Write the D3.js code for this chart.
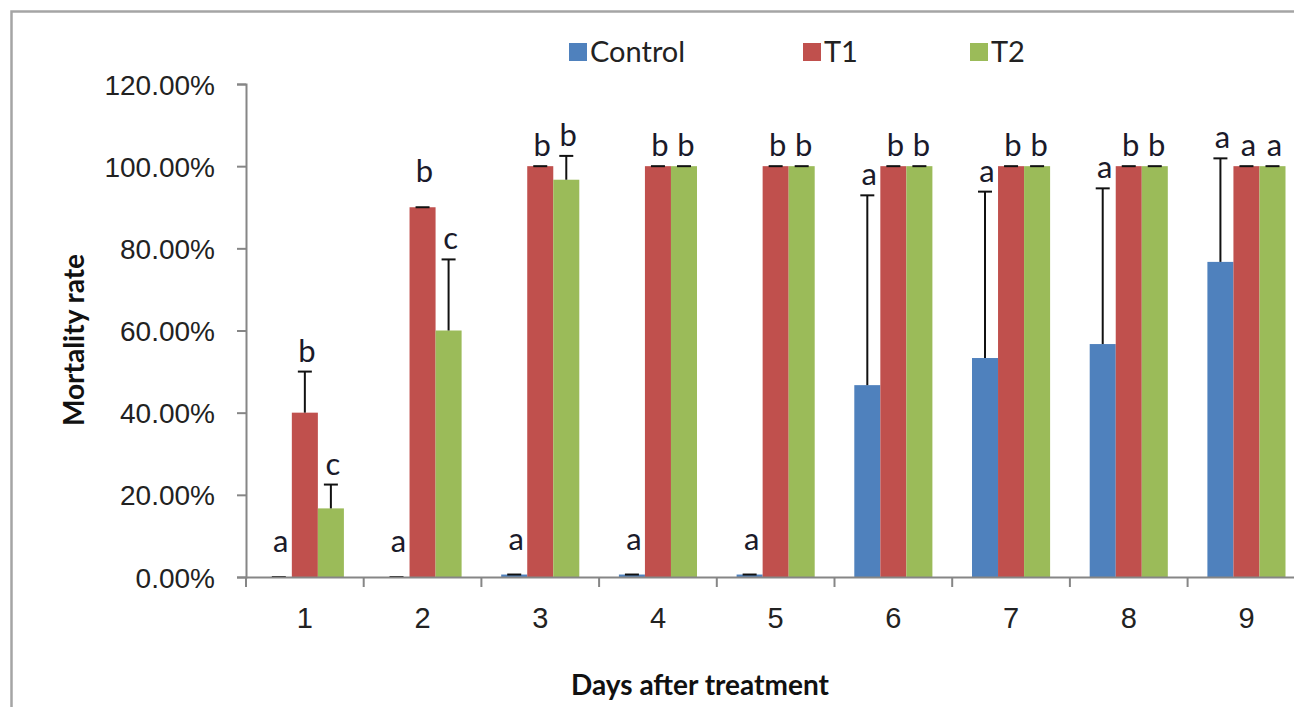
<!DOCTYPE html>
<html>
<head>
<meta charset="utf-8">
<script src="https://cdn.jsdelivr.net/npm/d3@7"></script>
<style>
  body { margin: 0; background: #fff; }
  svg { display: block; font-family: Lato, "Open Sans", sans-serif; }
</style>
</head>
<body>
<svg></svg>
<script>
// values (fractions of 1)
let days = ["1", "2", "3", "4", "5", "6", "7", "8", "9"]
let seriesNames = ["Control", "T1", "T2"]
let colors = ["#4F81BD", "#C0504D", "#9BBB59"]

let controlValues = [0, 0, 0.006, 0.006, 0.006, 0.467, 0.533, 0.567, 0.767]
let t1Values = [0.40, 0.90, 1, 1, 1, 1, 1, 1, 1]
let t2Values = [0.167, 0.60, 0.967, 1, 1, 1, 1, 1, 1]

let controlErr = [0, 0, 0, 0, 0, 0.462, 0.405, 0.379, 0.252]
let t1Err = [0.10, 0, 0, 0, 0, 0, 0, 0, 0]
let t2Err = [0.058, 0.173, 0.058, 0, 0, 0, 0, 0, 0]

let controlLetters = ["a", "a", "a", "a", "a", "a", "a", "a", "a"]
let t1Letters = ["b", "b", "b", "b", "b", "b", "b", "b", "a"]
let t2Letters = ["c", "c", "b", "b", "b", "b", "b", "b", "a"]

let yTicks = [0, 0.2, 0.4, 0.6, 0.8, 1.0, 1.2]

let width = 1294
let height = 707

let svg = d3.select("svg")
  .attr("width", width)
  .attr("height", height)

// outer chart border (chart runs off the right edge)
svg.append("rect")
  .attr("x", 11.5)
  .attr("y", 11.5)
  .attr("width", 1400)
  .attr("height", 800)
  .attr("fill", "none")
  .attr("stroke", "#a5a5a5")
  .attr("stroke-width", 2.5)

let rows = days.map((d, i) => ({
  day: d,
  bars: [
    { name: "Control", value: controlValues[i], err: controlErr[i], letter: controlLetters[i] },
    { name: "T1", value: t1Values[i], err: t1Err[i], letter: t1Letters[i] },
    { name: "T2", value: t2Values[i], err: t2Err[i], letter: t2Letters[i] }
  ]
}))

let xScale = d3.scaleBand()
  .domain(days)
  .range([246, 246 + 9 * 117.7])

let xInner = d3.scaleBand()
  .domain(seriesNames)
  .range([19.8, 97.9])

let yScale = d3.scaleLinear()
  .domain([0, 1.2])
  .range([577, 84])

let colorScale = d3.scaleOrdinal()
  .domain(seriesNames)
  .range(colors)

// y axis
let yAxis = d3.axisLeft(yScale)
  .tickValues(yTicks)
  .tickSize(9)
  .tickPadding(22)
  .tickFormat(d3.format(".2%"))
let yG = svg.append("g")
  .attr("transform", "translate(246, 0)")
  .call(yAxis)
yG.select(".domain").attr("stroke", "#868686").attr("stroke-width", 2)
yG.selectAll(".tick line").attr("stroke", "#868686").attr("stroke-width", 2)
yG.selectAll(".tick text")
  .attr("fill", "#222")
  .style("font-size", "28px")
  .attr("dy", "0.36em")

// bars
let groups = svg.selectAll(".day")
  .data(rows)
  .enter()
  .append("g")
  .attr("class", "day")
  .attr("transform", d => "translate(" + xScale(d.day) + ", 0)")

groups.selectAll("rect")
  .data(d => d.bars)
  .enter()
  .append("rect")
  .attr("x", b => xInner(b.name))
  .attr("y", b => yScale(b.value))
  .attr("width", xInner.bandwidth())
  .attr("height", b => yScale(0) - yScale(b.value))
  .attr("fill", b => colorScale(b.name))

// error bars (plus direction only)
let errs = groups.selectAll(".err")
  .data(d => d.bars)
  .enter()
  .append("g")
  .attr("class", "err")
  .attr("stroke", "#111")
  .attr("stroke-width", 2)
errs.append("line")
  .attr("x1", b => xInner(b.name) + xInner.bandwidth() / 2)
  .attr("x2", b => xInner(b.name) + xInner.bandwidth() / 2)
  .attr("y1", b => yScale(b.value))
  .attr("y2", b => yScale(b.value + b.err))
errs.append("line")
  .attr("x1", b => xInner(b.name) + xInner.bandwidth() / 2 - 7)
  .attr("x2", b => xInner(b.name) + xInner.bandwidth() / 2 + 7)
  .attr("y1", b => yScale(b.value + b.err))
  .attr("y2", b => yScale(b.value + b.err))

// significance letters
groups.selectAll(".letter")
  .data(d => d.bars)
  .enter()
  .append("text")
  .attr("class", "letter")
  .attr("x", b => xInner(b.name) + xInner.bandwidth() / 2 + 2)
  .attr("y", b => yScale(b.value + b.err) - (b.err == 0 && b.value < 1 ? 25 : 10))
  .attr("text-anchor", "middle")
  .attr("fill", "#1a1a2a")
  .style("font-size", "31px")
  .text(b => b.letter)

// x axis
let xAxis = d3.axisBottom(xScale)
  .tickSize(0)
  .tickPadding(30)
let xG = svg.append("g")
  .attr("transform", "translate(0, 577)")
  .call(xAxis)
xG.select(".domain").attr("stroke", "#868686").attr("stroke-width", 2)
xG.selectAll(".tick text")
  .attr("fill", "#222")
  .style("font-size", "29px")

// boundary tick marks between the days
svg.selectAll(".bound")
  .data(days)
  .enter()
  .append("line")
  .attr("x1", d => xScale(d))
  .attr("x2", d => xScale(d))
  .attr("y1", 577)
  .attr("y2", 587)
  .attr("stroke", "#868686")
  .attr("stroke-width", 2)

// axis titles
svg.append("text")
  .attr("x", 700)
  .attr("y", 695)
  .attr("text-anchor", "middle")
  .attr("fill", "#111")
  .style("font-size", "28px")
  .style("font-weight", "bold")
  .text("Days after treatment")

svg.append("text")
  .attr("transform", "translate(84, 340) rotate(-90)")
  .attr("text-anchor", "middle")
  .attr("fill", "#111")
  .style("font-size", "28px")
  .style("font-weight", "bold")
  .text("Mortality rate")

// legend
let legendX = [569, 803, 970]
let legend = svg.selectAll(".legend")
  .data(seriesNames)
  .enter()
  .append("g")
  .attr("class", "legend")
  .attr("transform", (d, i) => "translate(" + legendX[i] + ", 0)")
legend.append("rect")
  .attr("x", 0)
  .attr("y", 43)
  .attr("width", 18)
  .attr("height", 18)
  .attr("fill", d => colorScale(d))
legend.append("text")
  .attr("x", 21)
  .attr("y", 62)
  .attr("fill", "#222")
  .style("font-size", "29px")
  .text(d => d)
</script>
</body>
</html>
